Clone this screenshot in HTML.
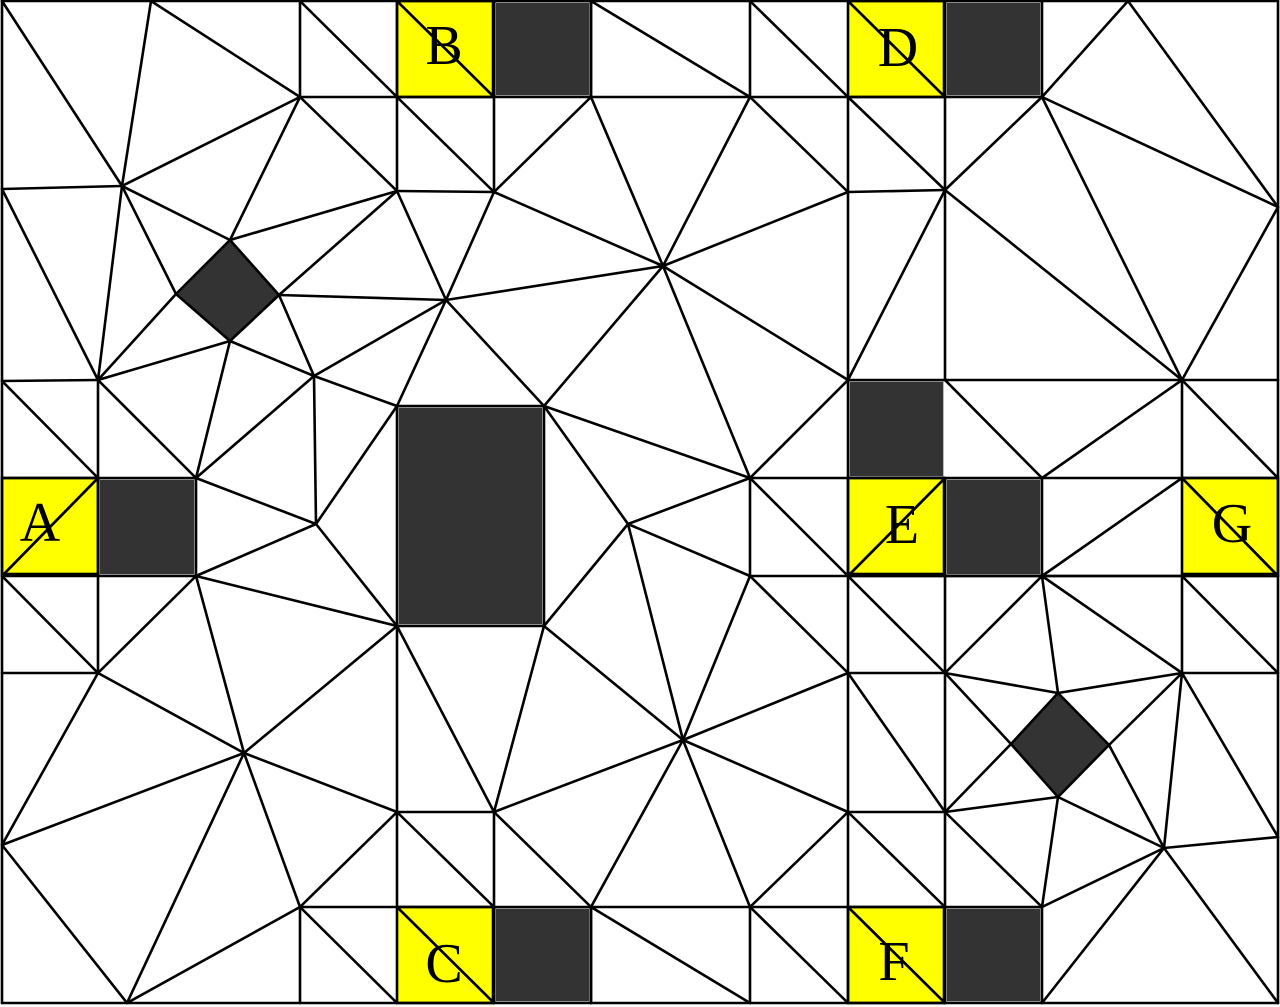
<!DOCTYPE html>
<html><head><meta charset="utf-8">
<style>
html,body{margin:0;padding:0;background:#fff;}
svg{display:block;}
text{font-family:"Liberation Serif",serif;font-size:56px;fill:#000;text-anchor:middle;}
</style></head>
<body>
<svg id="mesh" width="1280" height="1007" viewBox="0 0 1280 1007" xmlns="http://www.w3.org/2000/svg">
<rect x="0" y="0" width="1280" height="1007" fill="#fff"/>
<g id="fills"></g>
<g id="edges" stroke="#000" stroke-width="2.6" stroke-linecap="round"></g>
<g id="labels"></g>
</svg>
<script>
const P = {
 tl:[2,1], a:[151,1], b:[300,1], c:[397,1], d:[494,1], e:[591,1], t7:[750,1], t8:[848,1], t9:[945,1], t10:[1042,1], t11:[1128,1], tr:[1278,1],
 f:[122,186], g:[2,189], h:[300,97], i:[397,97], j:[494,97], k:[591,97], k2:[750,97], k3:[848,97], k4:[945,97], k5:[1042,97],
 l:[397,191], m:[494,192], l2:[848,192], m2:[945,190], rr:[1278,207],
 dt:[230,240], dl:[176,294], dr:[279,295], db:[230,341],
 n:[446,300], u:[663,266],
 o:[98,380], p:[2,381], q:[314,376], r:[397,406], s:[544,406], rbl:[397,626], rbr:[544,626],
 y380a:[848,380], y380b:[945,380], y380c:[1182,380], y380d:[1278,380],
 a478:[2,478], b478:[98,478], v:[196,478], w:[628,524], x1:[316,524],
 e478:[750,478], f478:[848,478], g478:[945,478], h478:[1042,478], i478:[1182,478], j478:[1278,478],
 a576:[2,576], b576:[98,576], c576:[196,576], e576:[750,576], f576:[848,576], g576:[945,576], h576:[1042,576], i576:[1182,576], j576:[1278,576],
 a673:[2,673], b673:[98,673], f673:[848,673], g673:[945,673], i673:[1182,673], j673:[1278,673],
 y1:[244,753], z:[683,740],
 d2t:[1058,693], d2l:[1011,744], d2r:[1109,745], d2b:[1058,797],
 lb:[2,845], s812:[397,812], t812:[494,812], f812:[848,812], g812:[945,812], cc:[1164,848], rc:[1278,837],
 u907:[300,907], c907:[397,907], d907:[494,907], e907:[591,907], g907:[750,907], h907:[848,907], i907:[945,907], j907:[1042,907],
 bl:[2,1003], bb:[127,1003], b300:[300,1003], b397:[397,1003], b494:[494,1003], b591:[591,1003], b750:[750,1003], b848:[848,1003], b945:[945,1003], b1042:[1042,1003], br:[1278,1003]
};
const E = [
 ['tl','tr'],['tr','br'],['bl','br'],['tl','bl'],
 ['tl','f'],['a','f'],['a','h'],['b','h'],['b','i'],['c','j'],['h','i'],['i','j'],['j','k'],['k','k2'],['k2','k3'],['k3','k4'],['k4','k5'],
 ['c','i'],['d','j'],['e','k'],['h','f'],['h','l'],['h','dt'],['i','l'],['i','m'],['j','m'],['l','m'],['m','k'],['k','u'],['m','u'],
 ['g','f'],['f','dt'],['f','dl'],['f','o'],['g','o'],
 ['dt','l'],['dr','l'],['l','n'],['m','n'],['dr','n'],['n','u'],['n','q'],['n','r'],['n','s'],
 ['dl','o'],['db','o'],['db','q'],['dr','q'],['db','v'],['q','v'],['q','r'],['q','x1'],['r','x1'],['v','x1'],
 ['p','o'],['o','b478'],['o','v'],['p','b478'],['s','u'],['s','e478'],['s','w'],
 ['e','k2'],['t7','k2'],['t7','k3'],['t8','k4'],['t11','k5'],['t11','rr'],['k5','rr'],
 ['k2','l2'],['k2','u'],['u','l2'],['u','y380a'],['u','e478'],
 ['k3','m2'],['k3','f478'],['l2','m2'],['k4','m2'],['m2','k5'],['m2','y380a'],['m2','y380c'],['k5','y380c'],['rr','y380c'],['m2','y380b'],
 ['y380a','y380d'],['e478','y380a'],['y380b','h478'],['y380c','h478'],['y380c','j478'],['y380c','i478'],
 ['e478','j478'],
 ['a478','v'],['b478','a576'],['a576','c576'],['a576','b673'],['b576','b673'],['c576','b673'],['a673','b673'],
 ['x1','c576'],['x1','rbl'],['c576','rbl'],['c576','y1'],['b673','y1'],['b673','lb'],['y1','lb'],['y1','rbl'],['y1','s812'],['y1','bb'],['y1','u907'],
 ['lb','bb'],['bb','u907'],['u907','s812'],['u907','b300'],['u907','b397'],['u907','j907'],
 ['rbl','c907'],['rbl','t812'],['rbr','t812'],['s812','t812'],['s812','d907'],['t812','d907'],['t812','e907'],['t812','z'],
 ['e907','b750'],['e907','z'],['rbr','z'],['rbr','w'],['c907','b494'],['d907','b494'],['e907','b591'],
 ['w','e576'],['w','e478'],['w','z'],['e478','e576'],['e478','f576'],['g478','f576'],['h576','i478'],['i478','j576'],
 ['e576','j576'],['e576','z'],['e576','f673'],['f478','b848'],['f576','g673'],['g576','i907'],['h576','g673'],['h576','d2t'],['h576','i673'],
 ['f673','g673'],['i673','j673'],['i576','i673'],['i576','j673'],['g673','d2t'],['i673','d2t'],['g673','d2l'],['i673','d2r'],
 ['z','f673'],['z','f812'],['z','g907'],['f673','g812'],['g812','d2l'],['g812','d2b'],['g812','j907'],['d2b','j907'],['d2b','cc'],['d2r','cc'],
 ['i673','cc'],['i673','rc'],['cc','rc'],['cc','j907'],['cc','b1042'],['cc','br'],
 ['f812','g812'],['f812','g907'],['f812','i907'],['g907','b848'],['h907','b945'],['g907','b750'],
 ['r','s'],['s','rbr'],['rbr','rbl'],['rbl','r'],
 ['t9','k4'],['t10','k5'],['d','j'],['e','k'],['b494','d907'],['b591','e907'],['b945','i907'],['b1042','j907'],['g576','g478'],['h576','h478'],['b576','b478'],['c576','v'],
 ['f576','j576']
];
const fills = document.getElementById('fills');
const edges = document.getElementById('edges');
const labels = document.getElementById('labels');
const NS = 'http://www.w3.org/2000/svg';
const yellowBoxes = [[2,478,'A',40,541],[397,1,'B',444,64],[397,907,'C',444,982],[848,1,'D',898,66],[848,478,'E',902,543],[848,907,'F',894,980],[1182,478,'G',1232,542]];
const darkRects = [[98,478,98,98],[494,1,97,96],[945,1,97,96],[494,907,97,96],[945,907,97,96],[945,478,97,98],[848,380,97,98],[397,406,147,220]];
for (const yb of yellowBoxes) {
  const rc = document.createElementNS(NS,'rect');
  rc.setAttribute('x',yb[0]); rc.setAttribute('y',yb[1]); rc.setAttribute('width',96); rc.setAttribute('height',96); rc.setAttribute('fill','#ffff00');
  
  
  fills.appendChild(rc);
  const t = document.createElementNS(NS,'text');
  t.setAttribute('x',yb[3]); t.setAttribute('y',yb[4]); t.textContent = yb[2];
  
  
  labels.appendChild(t);
}
for (const dk of darkRects) {
  const rc = document.createElementNS(NS,'rect');
  rc.setAttribute('x',dk[0]+1.5); rc.setAttribute('y',dk[1]+1.5); rc.setAttribute('width',dk[2]-3); rc.setAttribute('height',dk[3]-3);
  rc.setAttribute('fill','#333'); rc.setAttribute('stroke','#bbb'); rc.setAttribute('stroke-width','1');
  
  
  fills.appendChild(rc);
}
for (const dm of [['dt','dr','db','dl'],['d2t','d2r','d2b','d2l']]) {
  const pg = document.createElementNS(NS,'polygon');
  pg.setAttribute('points', dm.map(k=>P[k].join(',')).join(' '));
  pg.setAttribute('fill','#333'); pg.setAttribute('stroke','#000'); pg.setAttribute('stroke-width','2.6');
  
  
  fills.appendChild(pg);
}
const diags = [[98,478,2,576],[397,1,494,97],[397,907,494,1003],[848,1,945,97],[945,478,848,576],[848,907,945,1003],[1182,478,1278,576]];
for (const dg of diags) {
  const ln = document.createElementNS(NS,'line');
  ln.setAttribute('x1',dg[0]); ln.setAttribute('y1',dg[1]); ln.setAttribute('x2',dg[2]); ln.setAttribute('y2',dg[3]);
  
  
  edges.appendChild(ln);
}
for (const yb of yellowBoxes) {
  const rc = document.createElementNS(NS,'rect');
  rc.setAttribute('x',yb[0]); rc.setAttribute('y',yb[1]); rc.setAttribute('width',96); rc.setAttribute('height',96); rc.setAttribute('fill','none');
  
  
  edges.appendChild(rc);
}
for (const ed of E) {
  const A = P[ed[0]], B = P[ed[1]];
  if (!A || !B) continue;
  const ln = document.createElementNS(NS,'line');
  ln.setAttribute('x1',A[0]); ln.setAttribute('y1',A[1]); ln.setAttribute('x2',B[0]); ln.setAttribute('y2',B[1]);
  
  
  edges.appendChild(ln);
}
</script>
</body></html>
